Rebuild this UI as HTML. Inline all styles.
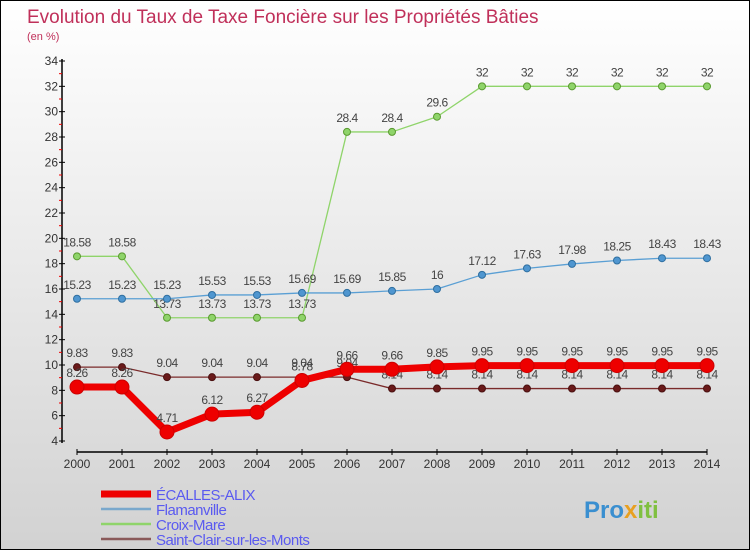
<!DOCTYPE html>
<html><head><meta charset="utf-8"><style>
body{margin:0}
#c{width:750px;height:550px;position:relative;font-family:"Liberation Sans",sans-serif;background:linear-gradient(#ffffff,#d2d2d2);border:1px solid #000;box-sizing:border-box;overflow:hidden}
</style></head><body>
<div id="c">
<svg id="s" width="750" height="550"></svg>
</div>
<script>
const years=[2000,2001,2002,2003,2004,2005,2006,2007,2008,2009,2010,2011,2012,2013,2014];
const ecalles=[8.26,8.26,4.71,6.12,6.27,8.78,9.66,9.66,9.85,9.95,9.95,9.95,9.95,9.95,9.95];
const flamanville=[15.23,15.23,15.23,15.53,15.53,15.69,15.69,15.85,16,17.12,17.63,17.98,18.25,18.43,18.43];
const croix=[18.58,18.58,13.73,13.73,13.73,13.73,28.4,28.4,29.6,32,32,32,32,32,32];
const stclair=[9.83,9.83,9.04,9.04,9.04,9.04,9.04,8.14,8.14,8.14,8.14,8.14,8.14,8.14,8.14];
const yTicks=[4,6,8,10,12,14,16,18,20,22,24,26,28,30,32,34];
const NS="http://www.w3.org/2000/svg";
const svg=document.getElementById('s');
const X=i=>76+i*45;
const Y=v=>440-(v-4)*380/30;
function el(t,a,txt){const e=document.createElementNS(NS,t);for(const k in a)e.setAttribute(k,a[k]);if(txt!==undefined)e.textContent=txt;svg.appendChild(e);return e;}
let t=el('text',{x:26,y:22,'font-size':19,fill:'#c0305a'},'Evolution du Taux de Taxe Foncière sur les Propriétés Bâties');


t=el('text',{x:26,y:39,'font-size':11,fill:'#c0305a'},'(en %)');


let a=el('line',{x1:61,y1:58,x2:61,y2:442,stroke:'#000','stroke-width':1.5});


a=el('line',{x1:76,y1:451,x2:706,y2:451,stroke:'#000','stroke-width':1.5});


yTicks.forEach(v=>{
 el('line',{x1:58,y1:Y(v),x2:64,y2:Y(v),stroke:'#000'});
 if(v<34) el('line',{x1:58,y1:Y(v+1),x2:61,y2:Y(v+1),stroke:'#e00'});
 const l=el('text',{x:57,y:Y(v)+4,'font-size':12,fill:'#333','text-anchor':'end'},v);
 
 
});
years.forEach((y,i)=>{
 el('line',{x1:X(i),y1:448,x2:X(i),y2:454,stroke:'#000'});
 const l=el('text',{x:X(i),y:467,'font-size':12,fill:'#333','text-anchor':'middle'},y);
 
 
});
function series(vals,color,dot,w,r,name,fill){
 const p=el('polyline',{points:vals.map((v,i)=>X(i)+','+Y(v)).join(' '),fill:'none',stroke:color,'stroke-width':w,'stroke-linejoin':'round'});
 
 
 vals.forEach((v,i)=>{
  const c=el('circle',{cx:X(i),cy:Y(v),r:r,fill:fill,stroke:dot,'stroke-width':1});
  
  
  const l=el('text',{x:X(i),y:Y(v)-10,'font-size':12,fill:'#444','text-anchor':'middle','letter-spacing':'-0.5'},v);
  
  
 });
}
series(croix,'#8fd46a','#5a9a30',1.3,3.5,'croix-mare','#8fd46a');
series(flamanville,'#5a9fd4','#2f6fa0',1.3,3.5,'flamanville','#4f96d0');
series(stclair,'#7a2a2a','#4a1010',1.3,3.5,'saint-clair','#6a1a1a');
series(ecalles,'#ee0000','#c00',7,7,'ecalles-alix','#ee0000');
const leg=[['ÉCALLES-ALIX','#ee0000',7],['Flamanville','#7aa8cc',2.5],['Croix-Mare','#8fd46a',2.5],['Saint-Clair-sur-les-Monts','#8a5a5a',2.5]];
leg.forEach((d,i)=>{
 const yy=493+i*15;
 const ln=el('line',{x1:100,y1:yy,x2:150,y2:yy,stroke:d[1],'stroke-width':d[2]});
 
 
 const tx=el('text',{x:155,y:yy+6,'font-size':15,fill:'#5a5af0','letter-spacing':'-0.5'},d[0]);
 
 
});
const lg=el('text',{x:583,y:517,'font-size':24,'font-weight':'bold',fill:'#3a8fd0'},'');


[['Pro','#3a8fd0'],['x','#e8a020'],['iti','#80c040']].forEach(p=>{const s=document.createElementNS(NS,'tspan');s.setAttribute('fill',p[1]);s.textContent=p[0];lg.appendChild(s);});
</script>
</body></html>
